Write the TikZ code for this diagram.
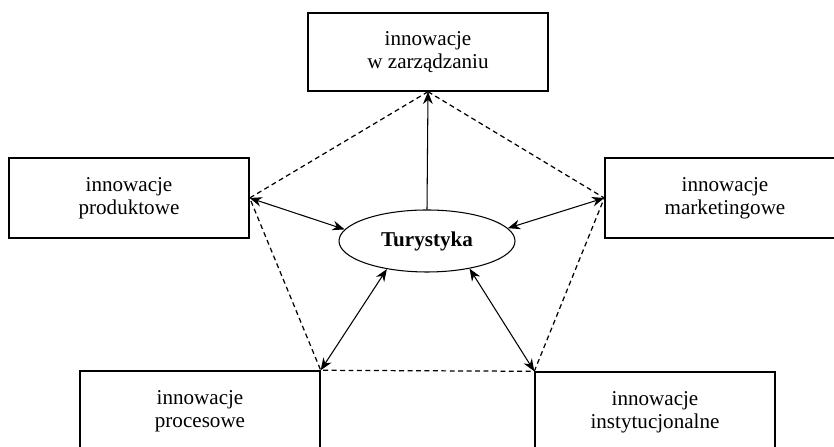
\documentclass[tikz,border=0pt]{standalone}
\usepackage{fontspec}
\setmainfont{Liberation Serif}
\usetikzlibrary{shapes.geometric,arrows.meta}

\begin{document}
\begin{tikzpicture}[
x=0.2mm,y=0.2mm,
pole/.style={
  draw,
  line width=0.8pt,
  minimum width=48mm,
  minimum height=16mm,
  align=center,
  font=\fontsize{12}{13.2}\selectfont
},
rdzen/.style={
  draw,
  ellipse,
  line width=0.6pt,
  minimum width=35.2mm,
  minimum height=12.4mm,
  inner sep=0pt,
  font=\fontsize{12}{13.2}\selectfont\bfseries
},
link/.style={
  line width=0.6pt,
  {Stealth[length=7pt,width=5.5pt]}-{Stealth[length=7pt,width=5.5pt]}
},
ramka/.style={
  line width=0.7pt,
  dash pattern=on 2.8pt off 2pt
}
]
\useasboundingbox (0,0) rectangle (834,447);

\node[pole,minimum height=15.6mm] (zarz) at (428,395)
  {innowacje\\w zarządzaniu};
\node[pole] (prod) at (129,249)
  {innowacje\\produktowe};
\node[pole] (mark) at (725,249)
  {innowacje\\marketingowe};
\node[pole] (proc) at (200,36)
  {innowacje\\procesowe};
\node[pole] (inst) at (655,35)
  {innowacje\\instytucjonalne};

\node[rdzen] (tur) at (427,206) {Turystyka};

%pentagon
\draw[ramka] (zarz.south) -- (prod.east) -- (proc.north east)
  -- (inst.north west) -- (mark.west) -- cycle;

\draw[line width=0.6pt,-{Stealth[length=7pt,width=5.5pt]}] (tur.north) -- (zarz.south);
\draw[link] (prod.east) -- (tur.172);
\draw[link] (mark.west) -- (tur.9);
\draw[link] (proc.north east) -- (tur.215);
\draw[link] (inst.north west) -- (tur.327);
\end{tikzpicture}
\end{document}
